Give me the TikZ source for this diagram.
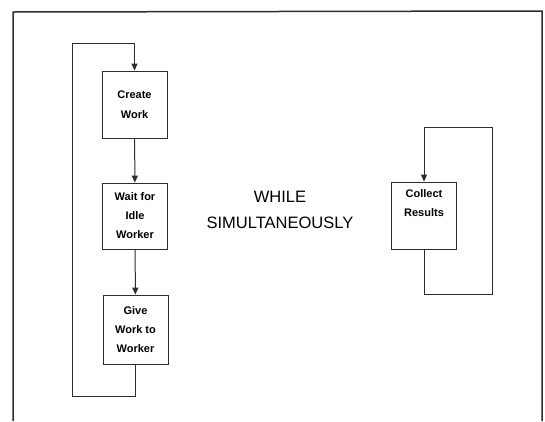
\documentclass[tikz,border=0pt]{standalone}
\usepackage{fontspec}
\setmainfont{Liberation Sans}
\usetikzlibrary{arrows.meta}
\definecolor{ink}{RGB}{45,45,45}
\begin{document}
\begin{tikzpicture}[x=1pt,y=-1pt,
  stepbox/.style={draw=ink,line width=0.9pt,fill=white,minimum width=65pt,minimum height=67pt,inner sep=0pt,align=center,
    font=\fontsize{11}{19}\selectfont\bfseries},
  conn/.style={draw=ink,line width=1pt},
  arr/.style={conn,-{Triangle[length=7pt,width=6pt]}}]
\useasboundingbox (0,0) rectangle (545,421);
\fill[white] (0,0) rectangle (545,421);
% frame
\draw[ink,line width=1.5pt] (13,421) -- (13,12) -- (542,11) -- (542,421);
% nodes
\node[stepbox,font=\fontsize{11}{22}\selectfont\bfseries] (create) at (134.5,104.5) {Create\\[-2pt]Work};
\node[stepbox,minimum height=66pt] (wait) at (135,216) {Wait for\\Idle\\Worker};
\node[stepbox,minimum height=69pt] (give) at (135.5,329.5) {Give\\Work to\\Worker};
\node[stepbox] (collect) at (424,215.5) {Collect\\Results\\[6pt]};
\node[font=\fontsize{16.5}{26}\selectfont,align=center] (while) at (280,210) {WHILE\\SIMULTANEOUSLY};
% helper coordinates
\coordinate (lb) at (72,396);
\coordinate (lt) at (72,43);
\coordinate (rb) at (492,294);
\coordinate (rt) at (492,127);
% connectors
\draw[arr] (create) -- (wait);
\draw[arr] (wait) -- (give);
\draw[arr] (give.south) |- (lb) |- (lt) -| (create.north);
\draw[arr] (collect.south) |- (rb) |- (rt) -| (collect.north);
\end{tikzpicture}
\end{document}
